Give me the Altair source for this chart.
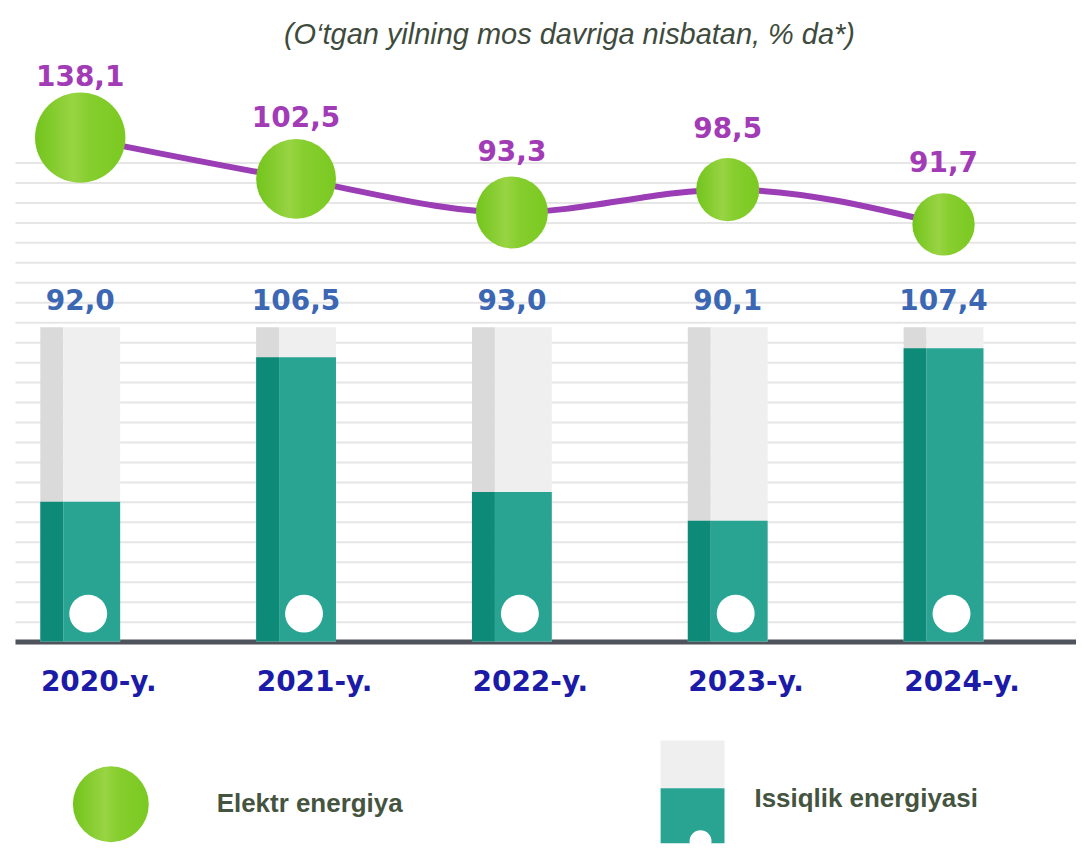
import altair as alt
import pandas as pd

# ---- data ----
years = ["2020-y.", "2021-y.", "2022-y.", "2023-y.", "2024-y."]
elektr = [138.1, 102.5, 93.3, 98.5, 91.7]       # Elektr energiya
issiqlik = [92.0, 106.5, 93.0, 90.1, 107.4]     # Issiqlik energiyasi
legend_items = ["Elektr energiya", "Issiqlik energiyasi"]
title_text = "(O\u2018tgan yilning mos davriga nisbatan, % da*)"

df = pd.DataFrame({"year": years, "elektr": elektr, "issiqlik": issiqlik})
ldf = pd.DataFrame({"item": legend_items})

NUM_FONT = "DejaVu Sans"
TXT_FONT = "Liberation Sans"

green = alt.Gradient(
    gradient="linear", x1=0, y1=0.5, x2=1, y2=0.5,
    stops=[alt.GradientStop(offset=0, color="#72c41c"),
           alt.GradientStop(offset=0.42, color="#98d443"),
           alt.GradientStop(offset=0.6, color="#86ce2e"),
           alt.GradientStop(offset=1, color="#7bc922")])

GRAY_L, GRAY_F = "#dadada", "#efefef"
TEAL_L, TEAL_F = "#0d8b78", "#29a492"

x_axis = alt.Axis(title=None, labelFont=NUM_FONT, labelFontSize=28, labelFontWeight="bold",
                  labelColor="#1b1ba8", labelOffset=18, labelPadding=27, ticks=False,
                  domainColor="#4f535c", domainWidth=5, labelAngle=0, grid=False)
xs = alt.Scale(type="point", padding=0.458, align=0.33)
X = alt.X("year:N", sort=years, scale=xs, axis=x_axis)

grid_values = list(range(80, 128, 2))
ys = alt.Scale(domain=[78, 136.5], nice=False, zero=False)
y_axis = alt.Axis(title=None, labels=False, ticks=False, domain=False, grid=True,
                  values=grid_values, tickCount=len(grid_values), labelOverlap=False,
                  gridColor="#e6e6e6", gridWidth=2)

base = alt.Chart(df).transform_calculate(
    iss_label="replace(format(datum.issiqlik, '.1f'), '.', ',')",
    el_label="replace(format(datum.elektr, '.1f'), '.', ',')",
    lv="datum.elektr - 88",
)

gray_left = base.mark_bar(width=23, xOffset=-28.5, color=GRAY_L).encode(
    x=X, y=alt.YDatum(109.5, scale=ys, axis=y_axis), y2=alt.Y2Datum(78))
gray_front = base.mark_bar(width=57, xOffset=11.5, color=GRAY_F).encode(
    x=X, y=alt.YDatum(109.5), y2=alt.Y2Datum(78))
teal_left = base.mark_bar(width=23, xOffset=-28.5, color=TEAL_L).encode(
    x=X, y=alt.Y("issiqlik:Q"), y2=alt.Y2Datum(78))
teal_front = base.mark_bar(width=57, xOffset=11.5, color=TEAL_F).encode(
    x=X, y=alt.Y("issiqlik:Q"), y2=alt.Y2Datum(78))
dots = base.mark_circle(size=1444, color="white", opacity=1, xOffset=8).encode(
    x=X, y=alt.YDatum(80.8))
bar_labels = base.mark_text(dy=-25, font=NUM_FONT, fontSize=28, fontWeight="bold",
                            color="#3c67b3").encode(
    x=X, y=alt.YDatum(109.5), text="iss_label:N")

bars = alt.layer(gray_left, gray_front, teal_left, teal_front, dots, bar_labels)

ly = alt.Scale(type="log", domain=[3, 60], range=[174, 74])
LY = alt.Y("lv:Q", scale=ly, axis=None)
line = base.mark_line(color="#9b3db5", strokeWidth=6, interpolate="monotone").encode(x=X, y=LY)
balls = base.mark_circle(opacity=1, color=green).encode(
    x=X, y=LY,
    size=alt.Size("year:O", sort=years,
                  scale=alt.Scale(type="ordinal", range=[8200, 6400, 5200, 4000, 3900]),
                  legend=None))
line_labels = base.mark_text(dy=-60, font=NUM_FONT, fontSize=28, fontWeight="bold",
                             color="#a23cb6").encode(x=X, y=LY, text="el_label:N")
lines = alt.layer(line, balls, line_labels)

main = alt.layer(bars, lines).resolve_scale(y="independent").properties(width=1063, height=585)

# ---- legend panel ----
LX = alt.X("item:N", sort=legend_items,
           scale=alt.Scale(type="point", padding=0.412, align=0.2), axis=None)
lb = alt.Chart(ldf)
first = alt.datum.item == legend_items[0]
second = alt.datum.item == legend_items[1]
leg_ball = lb.transform_filter(first).mark_circle(size=5776, opacity=1, color=green).encode(
    x=LX, y=alt.value(71))
leg_text1 = lb.transform_filter(first).mark_text(
    align="left", dx=106, font=TXT_FONT, fontSize=26, fontWeight="bold", color="#45543f").encode(
    x=LX, y=alt.value(71), text="item:N")
leg_gray = lb.transform_filter(second).mark_bar(width=64, color=GRAY_F).encode(
    x=LX, y=alt.value(7), y2=alt.value(55))
leg_teal = lb.transform_filter(second).mark_bar(width=64, color=TEAL_F).encode(
    x=LX, y=alt.value(55), y2=alt.value(110))
leg_dot = lb.transform_filter(second).mark_circle(size=484, color="white", opacity=1, xOffset=8).encode(
    x=LX, y=alt.value(108))
leg_text2 = lb.transform_filter(second).mark_text(
    align="left", dx=62, font=TXT_FONT, fontSize=26, fontWeight="bold", color="#45543f").encode(
    x=LX, y=alt.value(66), text="item:N")
legend = alt.layer(leg_ball, leg_text1, leg_gray, leg_teal, leg_dot, leg_text2).properties(
    width=1063, height=110)

chart = alt.vconcat(main, legend, spacing=37).properties(
    title=alt.TitleParams(text=title_text, font=TXT_FONT, fontSize=29, fontStyle="italic",
                          fontWeight="normal", color="#3e4b3c", anchor="middle", dx=24, offset=8),
    padding={"left": 7, "top": 12, "right": 0, "bottom": 0},
).configure_view(stroke=None)

chart.save("out.html", embed_options={"renderer": "svg", "actions": False})
